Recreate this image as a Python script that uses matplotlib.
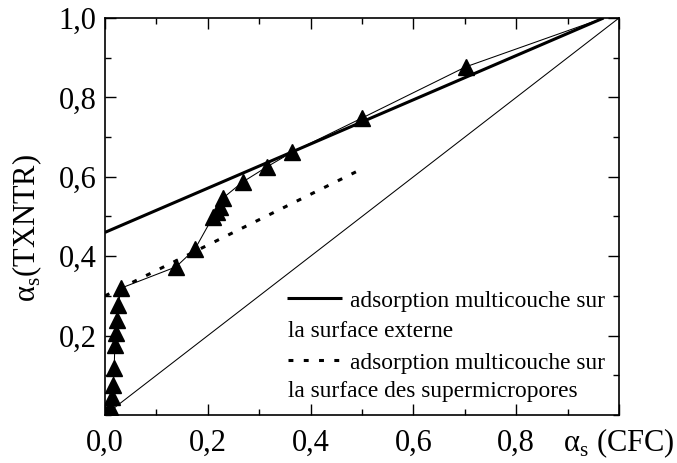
import numpy as np
import matplotlib
matplotlib.use('Agg')
import matplotlib.pyplot as plt
from matplotlib.ticker import MultipleLocator, FixedLocator

plt.rcParams['font.family'] = ['Liberation Serif', 'DejaVu Serif']

# alpha_s data (TXNTR vs CFC reference)
x_cfc = [0.010, 0.010, 0.014, 0.016, 0.018, 0.019, 0.021, 0.023, 0.025, 0.032,
         0.138, 0.175, 0.210, 0.218, 0.224, 0.230, 0.268, 0.315, 0.364, 0.500,
         0.702, 0.970]
y_txntr = [0.005, 0.020, 0.045, 0.076, 0.118, 0.176, 0.207, 0.239, 0.277, 0.320,
           0.373, 0.418, 0.499, 0.511, 0.524, 0.547, 0.587, 0.625, 0.662, 0.748,
           0.877, 1.000]

# linear fits
ext_x = [0.0, 0.97]
ext_y = [0.46, 1.0]
micro_x = [0.0, 0.50]
micro_y = [0.30, 0.62]

# reference line y = x
ref_x = [0.0, 1.0]
ref_y = [0.0, 1.0]

xticks = [0.0, 0.2, 0.4, 0.6, 0.8]
xtick_labels = ['0,0', '0,2', '0,4', '0,6', '0,8']
yticks = [0.2, 0.4, 0.6, 0.8, 1.0]
ytick_labels = ['0,2', '0,4', '0,6', '0,8', '1,0']

fig = plt.figure(figsize=(6.77, 4.63), dpi=100)
ax = fig.add_axes([105/677, 48/463, 514/677, 397/463])

ax.plot(ref_x, ref_y, color='k', lw=0.75)
ax.plot(ext_x, ext_y, color='k', lw=2.2, solid_capstyle='butt')
ax.plot(micro_x, micro_y, color='k', lw=2.2, linestyle=(0, (1.6, 3.4)))
ax.plot(x_cfc, y_txntr, color='k', lw=0.75, marker='^', ms=12,
        markevery=list(range(len(x_cfc) - 1)))

ax.set_xlim(0, 1.0)
ax.set_ylim(0, 1.0)
ax.xaxis.set_major_locator(FixedLocator(xticks + [1.0]))
ax.set_xticklabels(xtick_labels + [''])
ax.yaxis.set_major_locator(FixedLocator(yticks))
ax.set_yticklabels(ytick_labels)
ax.xaxis.set_minor_locator(MultipleLocator(0.1))
ax.yaxis.set_minor_locator(MultipleLocator(0.1))
ax.tick_params(which='both', direction='in', top=True, right=True, width=1.0,
               labelsize=22)
ax.tick_params(which='major', length=8)
ax.tick_params(which='minor', length=4)
ax.tick_params(axis='x', pad=10)
ax.tick_params(axis='y', pad=6)
for sp in ax.spines.values():
    sp.set_linewidth(1.2)

ax.set_xlabel('α$_\\mathregular{s}$ (CFC)', fontsize=22)
ax.xaxis.set_label_coords(1.0, -0.03)
ax.set_ylabel('α$_\\mathregular{s}$(TXNTR)', fontsize=22)
ax.yaxis.set_label_coords(-0.118, 0.47)

# legend drawn by hand so the second line wraps under the handle
ax.plot([0.354, 0.461], [0.295, 0.295], transform=ax.transAxes, color='k',
        lw=2.2, solid_capstyle='butt')
ax.plot([0.356, 0.460], [0.139, 0.139], transform=ax.transAxes, color='k',
        lw=2.2, linestyle=(0, (1.6, 3.4)))
leg_kw = dict(transform=ax.transAxes, fontsize=16.8, va='baseline', ha='left')
ax.text(0.477, 0.272, 'adsorption multicouche sur', **leg_kw)
ax.text(0.356, 0.196, 'la surface externe', **leg_kw)
ax.text(0.477, 0.116, 'adsorption multicouche sur', **leg_kw)
ax.text(0.356, 0.045, 'la surface des supermicropores', **leg_kw)

fig.savefig('out.png', dpi=100)
